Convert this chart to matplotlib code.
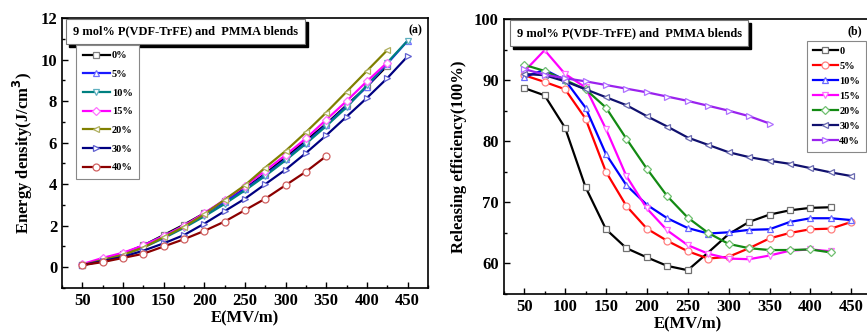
import numpy as np
import matplotlib
matplotlib.use("Agg")
import matplotlib.pyplot as plt
from matplotlib import transforms
from matplotlib.patches import Rectangle
from matplotlib.ticker import MultipleLocator

plt.rcParams['font.family'] = ['Liberation Serif', 'DejaVu Serif']
plt.rcParams['font.weight'] = 'bold'

# ---- (a) energy density ----
E_a = [50, 75, 100, 125, 150, 175, 200, 225, 250, 275, 300, 325, 350, 375, 400, 425, 450]
ud_labels = ['0%', '5%', '10%', '15%', '20%', '30%', '40%']
ud_0 = [0.1, 0.35, 0.65, 1.05, 1.55, 2.05, 2.6, 3.2, 3.8, 4.5, 5.3, 6.1, 6.9, 7.8, 8.7, 9.7]
ud_5 = [0.1, 0.4, 0.65, 1.05, 1.5, 2.0, 2.55, 3.15, 3.75, 4.45, 5.2, 6.0, 6.85, 7.75, 8.7, 9.8, 10.9]
ud_10 = [0.1, 0.35, 0.6, 0.95, 1.4, 1.9, 2.45, 3.05, 3.7, 4.4, 5.15, 5.95, 6.8, 7.7, 8.75, 9.85, 10.9]
ud_15 = [0.15, 0.45, 0.7, 1.05, 1.5, 2.0, 2.6, 3.25, 3.9, 4.65, 5.4, 6.2, 7.1, 8.0, 8.95, 9.85]
ud_20 = [0.1, 0.35, 0.6, 0.95, 1.45, 1.95, 2.55, 3.25, 3.95, 4.8, 5.6, 6.5, 7.45, 8.45, 9.45, 10.45]
ud_30 = [0.1, 0.3, 0.5, 0.8, 1.15, 1.55, 2.1, 2.7, 3.3, 4.0, 4.7, 5.5, 6.35, 7.25, 8.15, 9.1, 10.15]
ud_40 = [0.1, 0.25, 0.45, 0.65, 1.0, 1.35, 1.75, 2.2, 2.75, 3.3, 3.95, 4.6, 5.35]

# ---- (b) releasing efficiency ----
E_b = [50, 75, 100, 125, 150, 175, 200, 225, 250, 275, 300, 325, 350, 375, 400, 425, 450]
eff_labels = ['0', '5%', '10%', '15%', '20%', '30%', '40%']
eff_0 = [88.7, 87.5, 82.2, 72.5, 65.6, 62.5, 61.0, 59.6, 58.9, 61.8, 64.8, 66.8, 68.0, 68.7, 69.1, 69.2]
eff_0_marks = [0, 1, 2, 3, 4, 5, 6, 7, 8, 11, 12, 13, 14, 15]
eff_5 = [90.8, 89.7, 88.5, 83.7, 75.0, 69.4, 65.7, 63.7, 62.0, 60.8, 61.1, 62.5, 64.1, 65.0, 65.6, 65.7, 66.8]
eff_10 = [90.5, 91.7, 90.0, 85.5, 77.9, 72.8, 69.6, 67.4, 65.8, 64.9, 65.1, 65.5, 65.6, 66.8, 67.4, 67.4, 67.1]
eff_15 = [91.4, 94.9, 91.0, 88.8, 82.0, 74.3, 69.0, 65.4, 63.0, 61.6, 60.8, 60.7, 61.3, 62.1, 62.3, 62.0]
eff_20 = [92.5, 91.5, 90.0, 88.5, 85.5, 80.4, 75.5, 71.0, 67.5, 65.0, 63.2, 62.5, 62.2, 62.2, 62.3, 61.8]
eff_30 = [91.0, 90.8, 89.8, 88.5, 87.2, 85.9, 84.1, 82.4, 80.6, 79.4, 78.2, 77.4, 76.8, 76.3, 75.6, 74.9, 74.3]
eff_40 = [91.8, 90.9, 90.3, 89.8, 89.2, 88.6, 88.0, 87.3, 86.6, 85.8, 85.0, 84.1, 82.9]

fig = plt.figure(figsize=(8.67, 3.33), dpi=100)
axa = fig.add_axes([0.0715, 0.135, 0.422, 0.811])
axb = fig.add_axes([0.581, 0.117, 0.4245, 0.826])

a_series = [ud_0, ud_5, ud_10, ud_15, ud_20, ud_30, ud_40]
a_colors = ['black', '#1a1aff', '#008080', '#ff00ff', '#808000', '#000080', '#8b0000']
a_edges = ['#808080', '#7070ff', '#60b0c0', '#ff70ff', '#b0b060', '#6060d0', '#d06060']
a_markers = ['s', '^', 'v', 'D', '<', '>', 'o']
for y, lab, c, ec, m in zip(a_series, ud_labels, a_colors, a_edges, a_markers):
    ms = 4.2 if m == 'D' else 5
    axa.plot(E_a[:len(y)], y, color=c, lw=1.6, marker=m, ms=ms, mfc='white',
             mec=ec, mew=0.9, label=lab)

b_series = [eff_0, eff_5, eff_10, eff_15, eff_20, eff_30, eff_40]
b_colors = ['black', '#ff0000', '#0000ff', '#ff00ff', '#138a13', '#10106e', '#9a22ee']
b_edges = ['#707070', '#ff8080', '#6a6aff', '#ff70ff', '#70c070', '#6a6ab0', '#b070ff']
b_markers = ['s', 'o', '^', 'v', 'D', '<', '>']
for i, (y, lab, c, ec, m) in enumerate(zip(b_series, eff_labels, b_colors, b_edges, b_markers)):
    ms = 4.2 if m == 'D' else 5
    mk = eff_0_marks if i == 0 else None
    axb.plot(E_b[:len(y)], y, color=c, lw=1.6, marker=m, ms=ms, mfc='white',
             mec=ec, mew=0.9, label=lab, markevery=mk)

axa.set_xlim(25, 475)
axa.set_ylim(-1, 12)
axa.set_xticks(range(50, 451, 50))
axa.set_yticks(range(0, 13, 2))
axa.yaxis.set_minor_locator(MultipleLocator(1))
axa.xaxis.set_minor_locator(MultipleLocator(25))
axa.set_xlabel('E(MV/m)', fontsize=12, fontweight='bold', labelpad=1)
axa.set_ylabel('Energy density(J/cm$^\\mathbf{3}$)', fontsize=12, fontweight='bold', labelpad=4)

axb.set_xlim(25, 475)
axb.set_ylim(55, 100)
axb.set_xticks(range(50, 451, 50))
axb.set_yticks(range(60, 101, 10))
axb.yaxis.set_minor_locator(MultipleLocator(5))
axb.xaxis.set_minor_locator(MultipleLocator(25))
axb.set_xlabel('E(MV/m)', fontsize=12, fontweight='bold', labelpad=1)
axb.set_ylabel('Releasing efficiency(100%)', fontsize=12, fontweight='bold', labelpad=5)

for ax in (axa, axb):
    ax.tick_params(which='both', direction='in', labelsize=12, width=1)
    ax.tick_params(which='major', length=4)
    ax.tick_params(which='minor', length=2)
    for lbl in ax.get_xticklabels() + ax.get_yticklabels():
        lbl.set_fontweight('bold')
    for s in ax.spines.values():
        s.set_linewidth(1.2)

# title boxes, shadow drawn after layout is known
title = '9 mol% P(VDF-TrFE) and  PMMA blends'
titles = []
for ax, x, y in ((axa, 0.03, 0.95), (axb, 0.035, 0.948)):
    t = ax.text(x, y, title, transform=ax.transAxes, fontsize=8.9, fontweight='bold',
                va='center', ha='left', zorder=5,
                bbox=dict(boxstyle='square,pad=0.55', fc='white', ec='#777777', lw=0.8))
    titles.append((ax, t))

axa.text(0.985, 0.955, '(a)', transform=axa.transAxes, ha='right', va='center',
         fontsize=8.5, fontweight='bold')
axb.text(0.955, 0.955, '(b)', transform=axb.transAxes, ha='center', va='center',
         fontsize=8.5, fontweight='bold')

lega = axa.legend(loc='upper left', bbox_to_anchor=(0.025, 0.92), prop=dict(size=7.5, weight='bold'),
                  fancybox=False, edgecolor='#888888', handlelength=2.6, handletextpad=0.2,
                  labelspacing=0.9, borderpad=0.6, framealpha=1)
lega.get_frame().set_linewidth(0.8)
legb = axb.legend(loc='upper left', bbox_to_anchor=(0.81, 0.94), prop=dict(size=7.5, weight='bold'),
                  fancybox=False, edgecolor='#888888', handlelength=2.4, handletextpad=0.15,
                  labelspacing=0.55, borderpad=0.55, framealpha=1)
legb.get_frame().set_linewidth(0.8)

fig.canvas.draw()
renderer = fig.canvas.get_renderer()
for ax, t in titles:
    bb = t.get_bbox_patch().get_window_extent(renderer)
    ax.add_patch(Rectangle((bb.x0 + 3, bb.y0 - 3), bb.width, bb.height,
                           transform=transforms.IdentityTransform(), fc='black',
                           ec='black', zorder=4, clip_on=False))

fig.savefig('out.png', dpi=100)
